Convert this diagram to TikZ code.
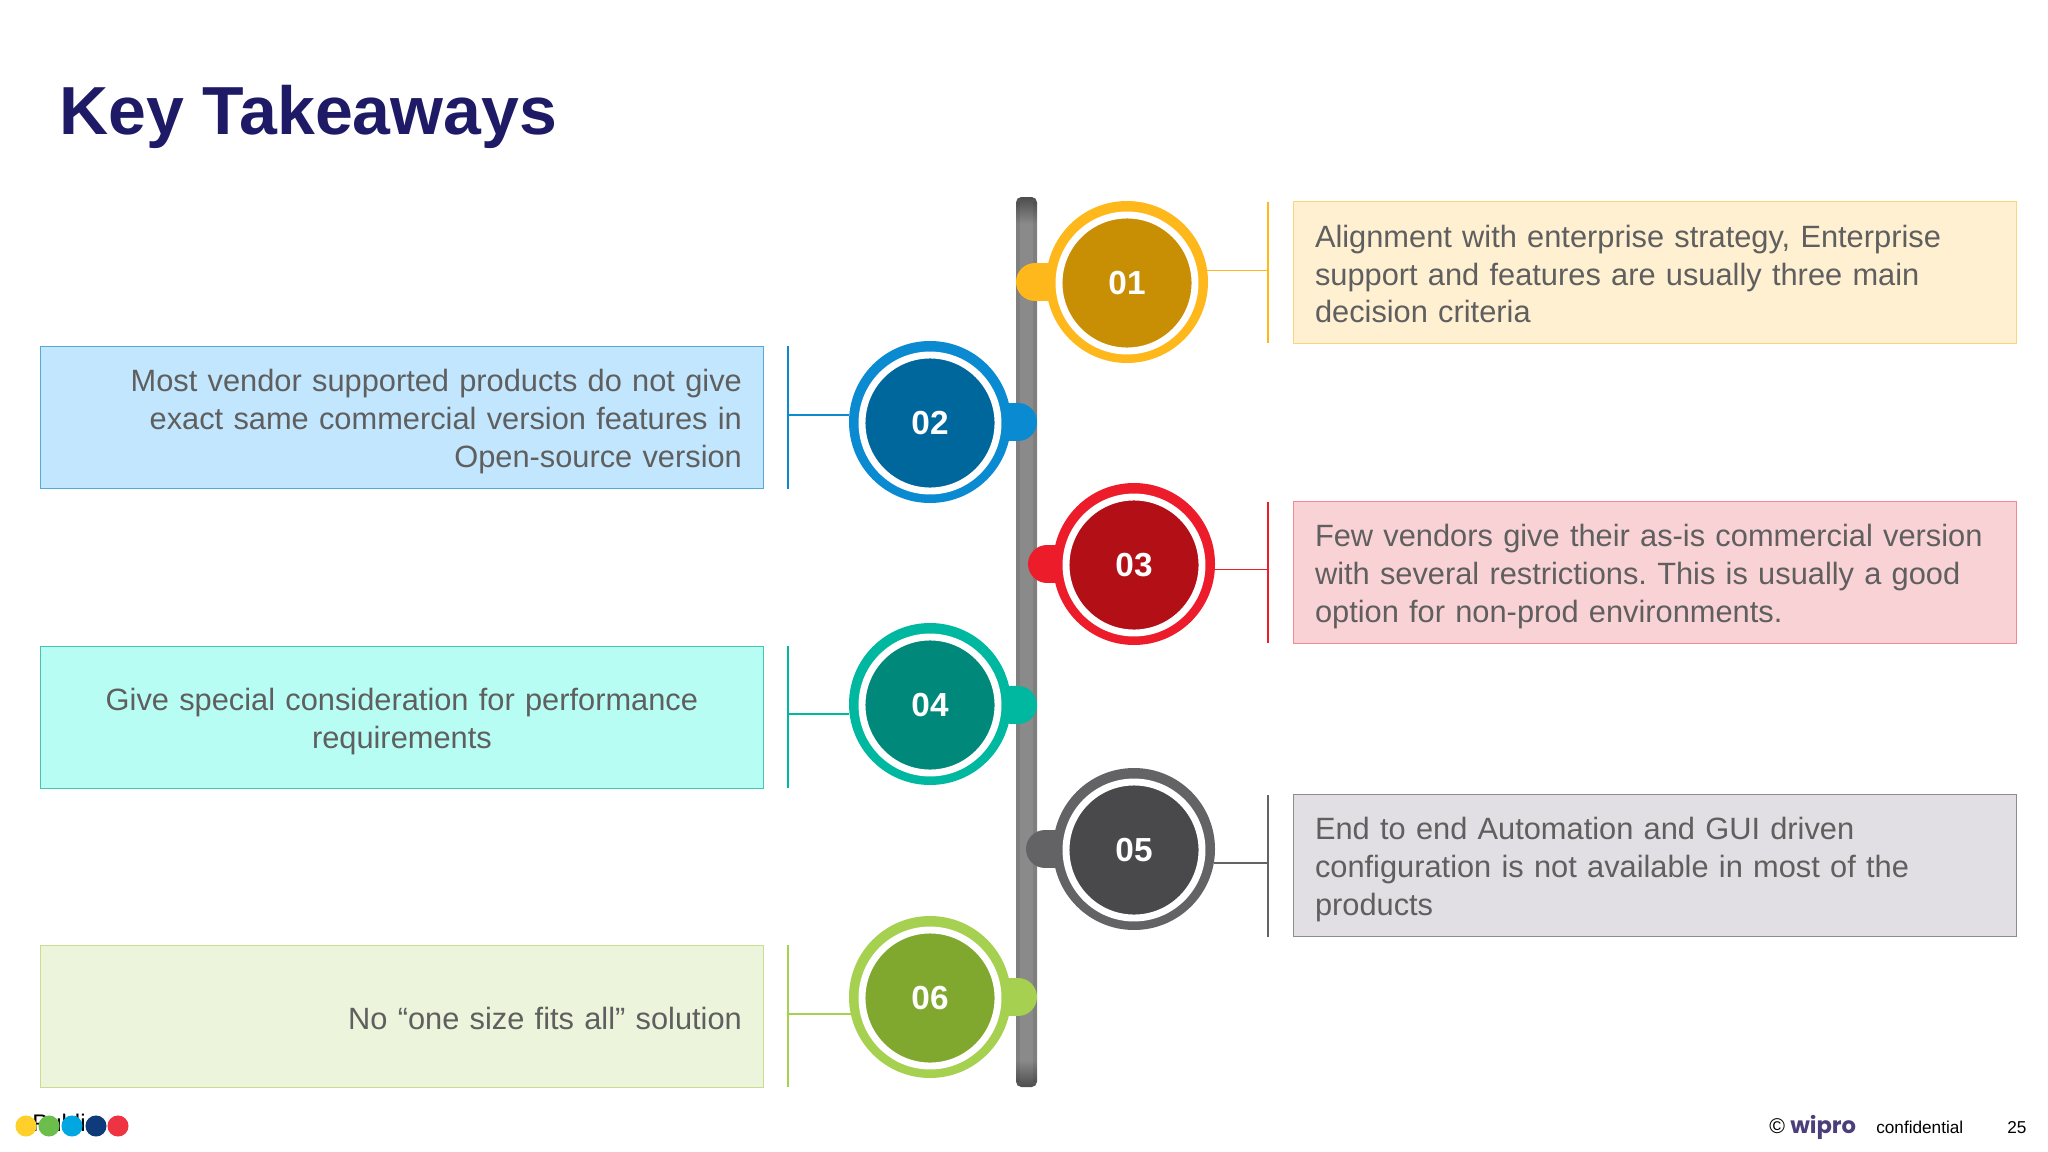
\documentclass[tikz,border=0pt]{standalone}
\usepackage{fontspec}
\setmainfont{Liberation Sans}
\newfontfamily\logofont{Poppins}
\usetikzlibrary{positioning}

\definecolor{ringA}{HTML}{FFB81C}
\definecolor{coreA}{HTML}{C98F04}
\definecolor{fillA}{HTML}{FFF0D2}
\definecolor{edgeA}{HTML}{FBD57C}
\definecolor{ringB}{HTML}{0A8AD0}
\definecolor{coreB}{HTML}{00679D}
\definecolor{fillB}{HTML}{C2E6FD}
\definecolor{edgeB}{HTML}{55A9D6}
\definecolor{ringC}{HTML}{ED1C2B}
\definecolor{coreC}{HTML}{B20F17}
\definecolor{fillC}{HTML}{F9D2D5}
\definecolor{edgeC}{HTML}{EE8A92}
\definecolor{ringD}{HTML}{00B8A0}
\definecolor{coreD}{HTML}{00897B}
\definecolor{fillD}{HTML}{B8FDF3}
\definecolor{edgeD}{HTML}{45C4B0}
\definecolor{ringE}{HTML}{636366}
\definecolor{coreE}{HTML}{49484B}
\definecolor{fillE}{HTML}{E1DFE3}
\definecolor{edgeE}{HTML}{8C8C8E}
\definecolor{ringF}{HTML}{A6D04F}
\definecolor{coreF}{HTML}{80A82E}
\definecolor{fillF}{HTML}{ECF4DC}
\definecolor{edgeF}{HTML}{C8DD90}
\definecolor{bodytext}{HTML}{5F5F5F}
\definecolor{titleblue}{HTML}{1F1A66}
\definecolor{logopurple}{HTML}{4A3F7A}
\definecolor{dotyellow}{HTML}{FFD02A}
\definecolor{dotgreen}{HTML}{6CBE4C}
\definecolor{dotcyan}{HTML}{00A7E1}
\definecolor{dotnavy}{HTML}{0F3B7A}
\definecolor{dotred}{HTML}{EE3342}

\pgfdeclareverticalshading{barshade}{100bp}{color(0bp)=(black!70!white); color(25bp)=(black!70!white); color(26.5bp)=(black!46!white); color(73.5bp)=(black!46!white); color(75bp)=(black!70!white); color(100bp)=(black!70!white)}

\newcommand{\boxtop}{\rule{0pt}{24pt}}
\newcommand{\boxend}{\rule[-4.4pt]{0pt}{4.4pt}}
\frenchspacing

\tikzset{
  ringdisc/.style={circle, fill=#1, minimum size=121.5pt, inner sep=0pt},
  coredisc/.style={circle, fill=#1, draw=white, line width=5.2pt, minimum size=102pt, inner sep=0pt,
    text=white, font=\fontsize{25pt}{25pt}\selectfont\bfseries},
  tabline/.style={#1, line width=28.5pt, line cap=round},
  stemline/.style={#1, line width=1.2pt},
  barside/.style={fill=black, opacity=0.08, minimum width=3pt, minimum height=660pt, inner sep=0pt},
  textbox/.style n args={3}{draw=#2, fill=#1, line width=0.75pt, minimum height=106.5pt, text width=510pt,
    inner xsep=16pt, inner ysep=0pt, align=#3, text=bodytext,
    font=\fontsize{23.1pt}{28.4pt}\selectfont},
  dot/.style={circle, fill=#1, minimum size=15.8pt, inner sep=0pt},
  small/.style={font=\fontsize{12.9pt}{12.9pt}\selectfont, inner sep=0pt, anchor=base west}
}

\begin{document}
\begin{tikzpicture}[x=0.75pt, y=-0.75pt]
  \useasboundingbox (0,0) rectangle (2048,1152);

  \node[inner sep=0pt, anchor=base west, text=titleblue, font=\fontsize{51pt}{51pt}\selectfont\bfseries] (title) at (59,135) {Key Takeaways};

  % the bar
  \node[shading=barshade, rounded corners=4pt, minimum width=15.75pt, minimum height=667.5pt, inner sep=0pt] (bar) at (1026.5,642) {};
  \node[barside] (barleft) at (1018,642) {};
  \node[barside] (barright) at (1035,642) {};

  % tab ends
  \coordinate (tabA) at (1035,282);
  \coordinate (tabB) at (1018,422);
  \coordinate (tabC) at (1047,564);
  \coordinate (tabD) at (1018,705);
  \coordinate (tabE) at (1045,849);
  \coordinate (tabF) at (1018,997);

  \node[ringdisc=ringA] (ringA) at (1127,282) {};
  \node[ringdisc=ringB] (ringB) at (930,422) {};
  \node[ringdisc=ringC] (ringC) at (1134,564) {};
  \node[ringdisc=ringD] (ringD) at (930,704) {};
  \node[ringdisc=ringE] (ringE) at (1134,849) {};
  \node[ringdisc=ringF] (ringF) at (930,997) {};

  \draw[tabline=ringA] (tabA) -- (ringA);
  \draw[tabline=ringB] (tabB) -- (ringB);
  \draw[tabline=ringC] (tabC) -- (ringC);
  \draw[tabline=ringD] (tabD) -- (ringD);
  \draw[tabline=ringE] (tabE) -- (ringE);
  \draw[tabline=ringF] (tabF) -- (ringF);

  \node[coredisc=coreA] (coreA) at (1127,283) {01};
  \node[coredisc=coreB] (coreB) at (930,423) {02};
  \node[coredisc=coreC] (coreC) at (1134,565) {03};
  \node[coredisc=coreD] (coreD) at (930,705) {04};
  \node[coredisc=coreE] (coreE) at (1134,850) {05};
  \node[coredisc=coreF] (coreF) at (930,998) {06};

  % text boxes
  \node[textbox={fillA}{edgeA}{left}] (boxA) at (1655,272) {\boxtop Alignment with enterprise strategy, Enterprise\\support and features are usually three main\\decision criteria\boxend};
  \node[textbox={fillB}{edgeB}{right}] (boxB) at (401.9,417) {\boxtop Most vendor supported products do not give\\exact same commercial version features in\\Open-source version\boxend};
  \node[textbox={fillC}{edgeC}{left}] (boxC) at (1655,572) {\boxtop Few vendors give their as-is commercial version\\with several restrictions. This is usually a good\\option for non-prod environments.\boxend};
  \node[textbox={fillD}{edgeD}{center}] (boxD) at (401.9,717) {\boxtop Give special consideration for performance\\requirements\boxend};
  \node[textbox={fillE}{edgeE}{left}] (boxE) at (1655,865) {\boxtop End to end Automation and GUI driven\\configuration is not available in most of the\\products\boxend};
  \node[textbox={fillF}{edgeF}{right}] (boxF) at (401.9,1016) {\boxtop No “one size fits all” solution\boxend};

  % stems
  \coordinate (postAtop) at (1268,202);
  \coordinate (postAbot) at (1268,343);
  \coordinate (postBtop) at (788,346);
  \coordinate (postBbot) at (788,489);
  \coordinate (postCtop) at (1268,502);
  \coordinate (postCbot) at (1268,643);
  \coordinate (postDtop) at (788,646);
  \coordinate (postDbot) at (788,788);
  \coordinate (postEtop) at (1268,795);
  \coordinate (postEbot) at (1268,937);
  \coordinate (postFtop) at (788,945);
  \coordinate (postFbot) at (788,1087);
  \draw[stemline=ringA] (postAtop) -- (postAbot);
  \draw[stemline=ringB] (postBtop) -- (postBbot);
  \draw[stemline=ringC] (postCtop) -- (postCbot);
  \draw[stemline=ringD] (postDtop) -- (postDbot);
  \draw[stemline=ringE] (postEtop) -- (postEbot);
  \draw[stemline=ringF] (postFtop) -- (postFbot);
  \draw[stemline=ringA] (ringA.8.5) -- (ringA.8.5 -| postAtop);
  \draw[stemline=ringB] (ringB.175) -- (ringB.175 -| postBtop);
  \draw[stemline=ringC] (ringC.-4) -- (ringC.-4 -| postCtop);
  \draw[stemline=ringD] (ringD.187) -- (ringD.187 -| postDtop);
  \draw[stemline=ringE] (ringE.-10) -- (ringE.-10 -| postEtop);
  \draw[stemline=ringF] (ringF.192) -- (ringF.192 -| postFtop);

  % footer
  \node[inner sep=0pt, anchor=base west, font=\fontsize{18pt}{18pt}\selectfont] (public) at (32,1131) {Public};
  \node[dot=dotyellow] (dotA) at (26,1126) {};
  \node[dot=dotgreen] (dotB) at (49,1126) {};
  \node[dot=dotcyan] (dotC) at (72,1126) {};
  \node[dot=dotnavy] (dotD) at (96,1126) {};
  \node[dot=dotred] (dotE) at (118,1126) {};

  \node[small, font=\fontsize{16pt}{16pt}\selectfont] (copy) at (1769,1133) {©};
  \node[inner sep=0pt, anchor=base west, text=logopurple, font=\fontsize{17pt}{17pt}\selectfont\logofont\bfseries] (wipro) at (1790,1133) {wipro};
  \node[small] (conf) at (1876,1133) {confidential};
  \node[small] (page) at (2007,1133) {25};
\end{tikzpicture}
\end{document}
